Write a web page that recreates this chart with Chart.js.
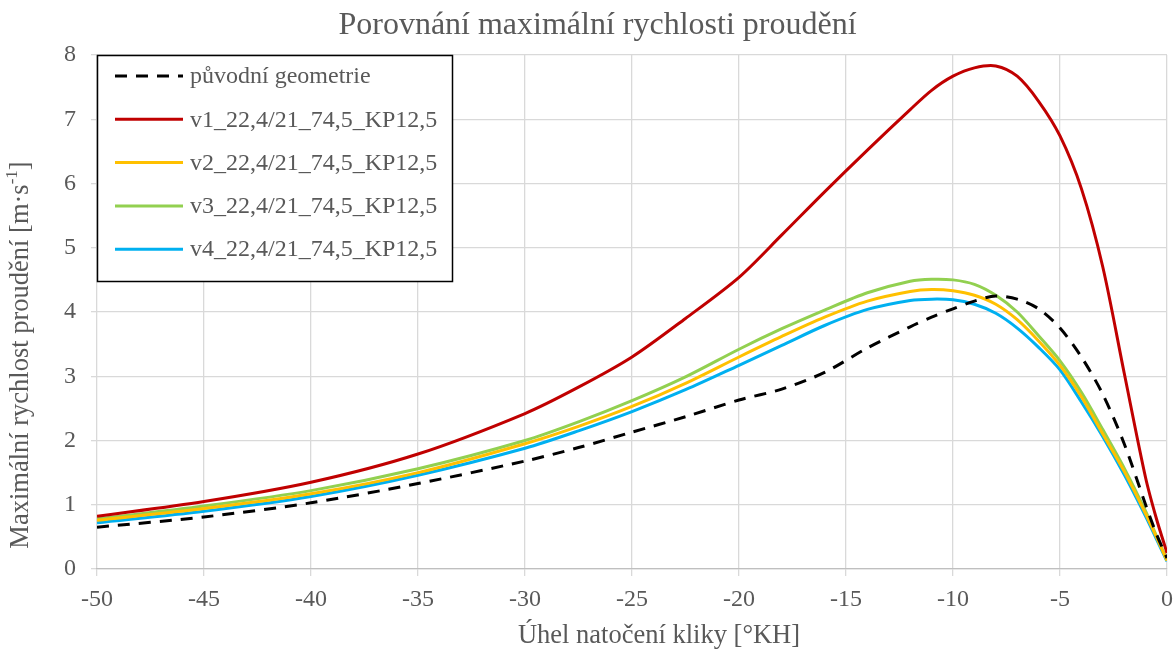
<!DOCTYPE html>
<html>
<head>
<meta charset="utf-8">
<script src="https://cdn.jsdelivr.net/npm/chart.js@4"></script>
<style>
  html, body { margin: 0; padding: 0; background: #fff; }
  #wrap { width: 1176px; height: 654px; position: relative; }
</style>
</head>
<body>
<div id="wrap"><canvas id="chart"></canvas></div>
<script>
// crank angle [°KH]
const angles = [-50, -45, -40, -35, -30, -27.5, -25, -22.5, -20, -18, -16, -14, -12, -11, -10, -9, -8, -7, -6, -5, -4, -3, -2, -1, -0.5, 0];

const seriesLabels = [
  "původní geometrie",
  "v1_22,4/21_74,5_KP12,5",
  "v2_22,4/21_74,5_KP12,5",
  "v3_22,4/21_74,5_KP12,5",
  "v4_22,4/21_74,5_KP12,5",
];

const original = [0.65, 0.81, 1.03, 1.33, 1.68, 1.89, 2.13, 2.37, 2.63, 2.8, 3.06, 3.44, 3.77, 3.92, 4.05, 4.17, 4.25, 4.2, 4.05, 3.75, 3.3, 2.72, 1.95, 1.0, 0.55, 0.17];
const v1 = [0.82, 1.05, 1.35, 1.79, 2.42, 2.83, 3.3, 3.9, 4.54, 5.2, 5.87, 6.52, 7.15, 7.45, 7.67, 7.8, 7.83, 7.67, 7.28, 6.74, 5.92, 4.7, 3.05, 1.42, 0.79, 0.25];
const v2 = [0.76, 0.94, 1.17, 1.5, 1.95, 2.22, 2.53, 2.89, 3.3, 3.62, 3.92, 4.17, 4.32, 4.35, 4.33, 4.26, 4.12, 3.88, 3.55, 3.17, 2.68, 2.1, 1.52, 0.86, 0.5, 0.13];
const v3 = [0.78, 0.98, 1.22, 1.56, 2.0, 2.29, 2.62, 2.99, 3.42, 3.74, 4.03, 4.3, 4.48, 4.51, 4.5, 4.43, 4.26, 4.0, 3.63, 3.24, 2.75, 2.17, 1.57, 0.9, 0.52, 0.14];
const v4 = [0.72, 0.9, 1.13, 1.46, 1.88, 2.15, 2.45, 2.79, 3.17, 3.48, 3.79, 4.04, 4.18, 4.2, 4.19, 4.12, 3.98, 3.75, 3.45, 3.1, 2.6, 2.06, 1.47, 0.82, 0.47, 0.12];

const xTicks = [-50, -45, -40, -35, -30, -25, -20, -15, -10, -5, 0];
const yTicks = [0, 1, 2, 3, 4, 5, 6, 7, 8];

const xTitle = "Úhel natočení kliky [°KH]";
const yTitle = ["Maximální rychlost proudění [m·s", "-1", "]"];

const FONT = "'Liberation Serif', 'Times New Roman', serif";
const GREY = "#595959";

function points(values) {
  return angles.map((a, i) => ({ x: a, y: values[i] }));
}

function series(label, values, color, dash) {
  return {
    label: label,
    data: points(values),
    borderColor: color,
    backgroundColor: color,
    borderWidth: 3,
    borderDash: dash || [],
    pointRadius: 0,
    fill: false,
    tension: 0.3,
  };
}

// legend box inside the plot + axis titles (y one has a superscript)
const extras = {
  id: "extras",
  afterDatasetsDraw(chart) {
    const ctx = chart.ctx;
    const area = chart.chartArea;
    const left = area.left, top = area.top;
    ctx.save();
    ctx.fillStyle = "#fff";
    ctx.fillRect(left, top, 356, 227);
    ctx.strokeStyle = "#000";
    ctx.lineWidth = 1.5;
    ctx.strokeRect(left + 0.5, top + 0.5, 355, 226);
    ctx.font = "24px " + FONT;
    ctx.textBaseline = "middle";
    chart.data.datasets.forEach((ds, i) => {
      const y = top + 21 + i * 43.3;
      ctx.beginPath();
      ctx.strokeStyle = ds.borderColor;
      ctx.lineWidth = 3;
      ctx.setLineDash(ds.borderDash);
      ctx.moveTo(left + 18, y);
      ctx.lineTo(left + 86, y);
      ctx.stroke();
      ctx.setLineDash([]);
      ctx.fillStyle = GREY;
      ctx.fillText(ds.label, left + 93, y + 1);
    });
    ctx.restore();
  },
  afterDraw(chart) {
    const ctx = chart.ctx;
    ctx.save();
    ctx.fillStyle = GREY;
    ctx.textBaseline = "middle";

    // x axis title
    ctx.font = "26.5px " + FONT;
    ctx.textAlign = "center";
    ctx.fillText(xTitle, 659, 636);

    // y axis title, rotated
    ctx.translate(21, 355);
    ctx.rotate(-Math.PI / 2);
    ctx.textAlign = "left";
    const big = "26.5px " + FONT, small = "17px " + FONT;
    ctx.font = big;
    const w0 = ctx.measureText(yTitle[0]).width;
    const w2 = ctx.measureText(yTitle[2]).width;
    ctx.font = small;
    const w1 = ctx.measureText(yTitle[1]).width;
    let x = -(w0 + w1 + w2) / 2;
    ctx.font = big;
    ctx.fillText(yTitle[0], x, 0);
    x += w0;
    ctx.font = small;
    ctx.fillText(yTitle[1], x, -8);
    x += w1;
    ctx.font = big;
    ctx.fillText(yTitle[2], x, 0);
    ctx.restore();
  },
};

const config = {
  type: "line",
  data: {
    datasets: [
      series(seriesLabels[0], original, "#000000", [12, 9]),
      series(seriesLabels[1], v1, "#C00000"),
      series(seriesLabels[2], v2, "#FFC000"),
      series(seriesLabels[3], v3, "#92D050"),
      series(seriesLabels[4], v4, "#00B0F0"),
    ],
  },
  options: {
    responsive: false,
    animation: false,
    layout: { padding: { left: 28, right: 9 } },
    plugins: {
      legend: { display: false },
      tooltip: { enabled: false },
      title: {
        display: true,
        text: "Porovnání maximální rychlosti proudění",
        color: GREY,
        font: { family: FONT, size: 32, weight: "normal" },
        padding: { top: 6, bottom: 10.6 },
      },
    },
    scales: {
      x: {
        type: "linear",
        min: -50,
        max: 0,
        afterBuildTicks: (axis) => { axis.ticks = xTicks.map((v) => ({ value: v })); },
        afterFit: (axis) => {
          axis.height = 85;
          axis.paddingLeft = 0;
          axis.paddingRight = 0;
        },
        ticks: { color: GREY, font: { family: FONT, size: 24 }, padding: 9 },
        grid: { color: "#d9d9d9", lineWidth: 1.3, tickLength: 7 },
        border: { color: "#bfbfbf", width: 1.3 },
      },
      y: {
        min: 0,
        max: 8,
        afterBuildTicks: (axis) => { axis.ticks = yTicks.map((v) => ({ value: v })); },
        afterFit: (axis) => { axis.width = 69; },
        ticks: { color: GREY, font: { family: FONT, size: 24 }, padding: 15 },
        grid: { color: "#d9d9d9", lineWidth: 1.3, tickLength: 6 },
        border: { display: false },
      },
    },
  },
  plugins: [extras],
};

const canvas = document.getElementById("chart");
canvas.width = 1176;
canvas.height = 654;
new Chart(canvas, config);
</script>
</body>
</html>
